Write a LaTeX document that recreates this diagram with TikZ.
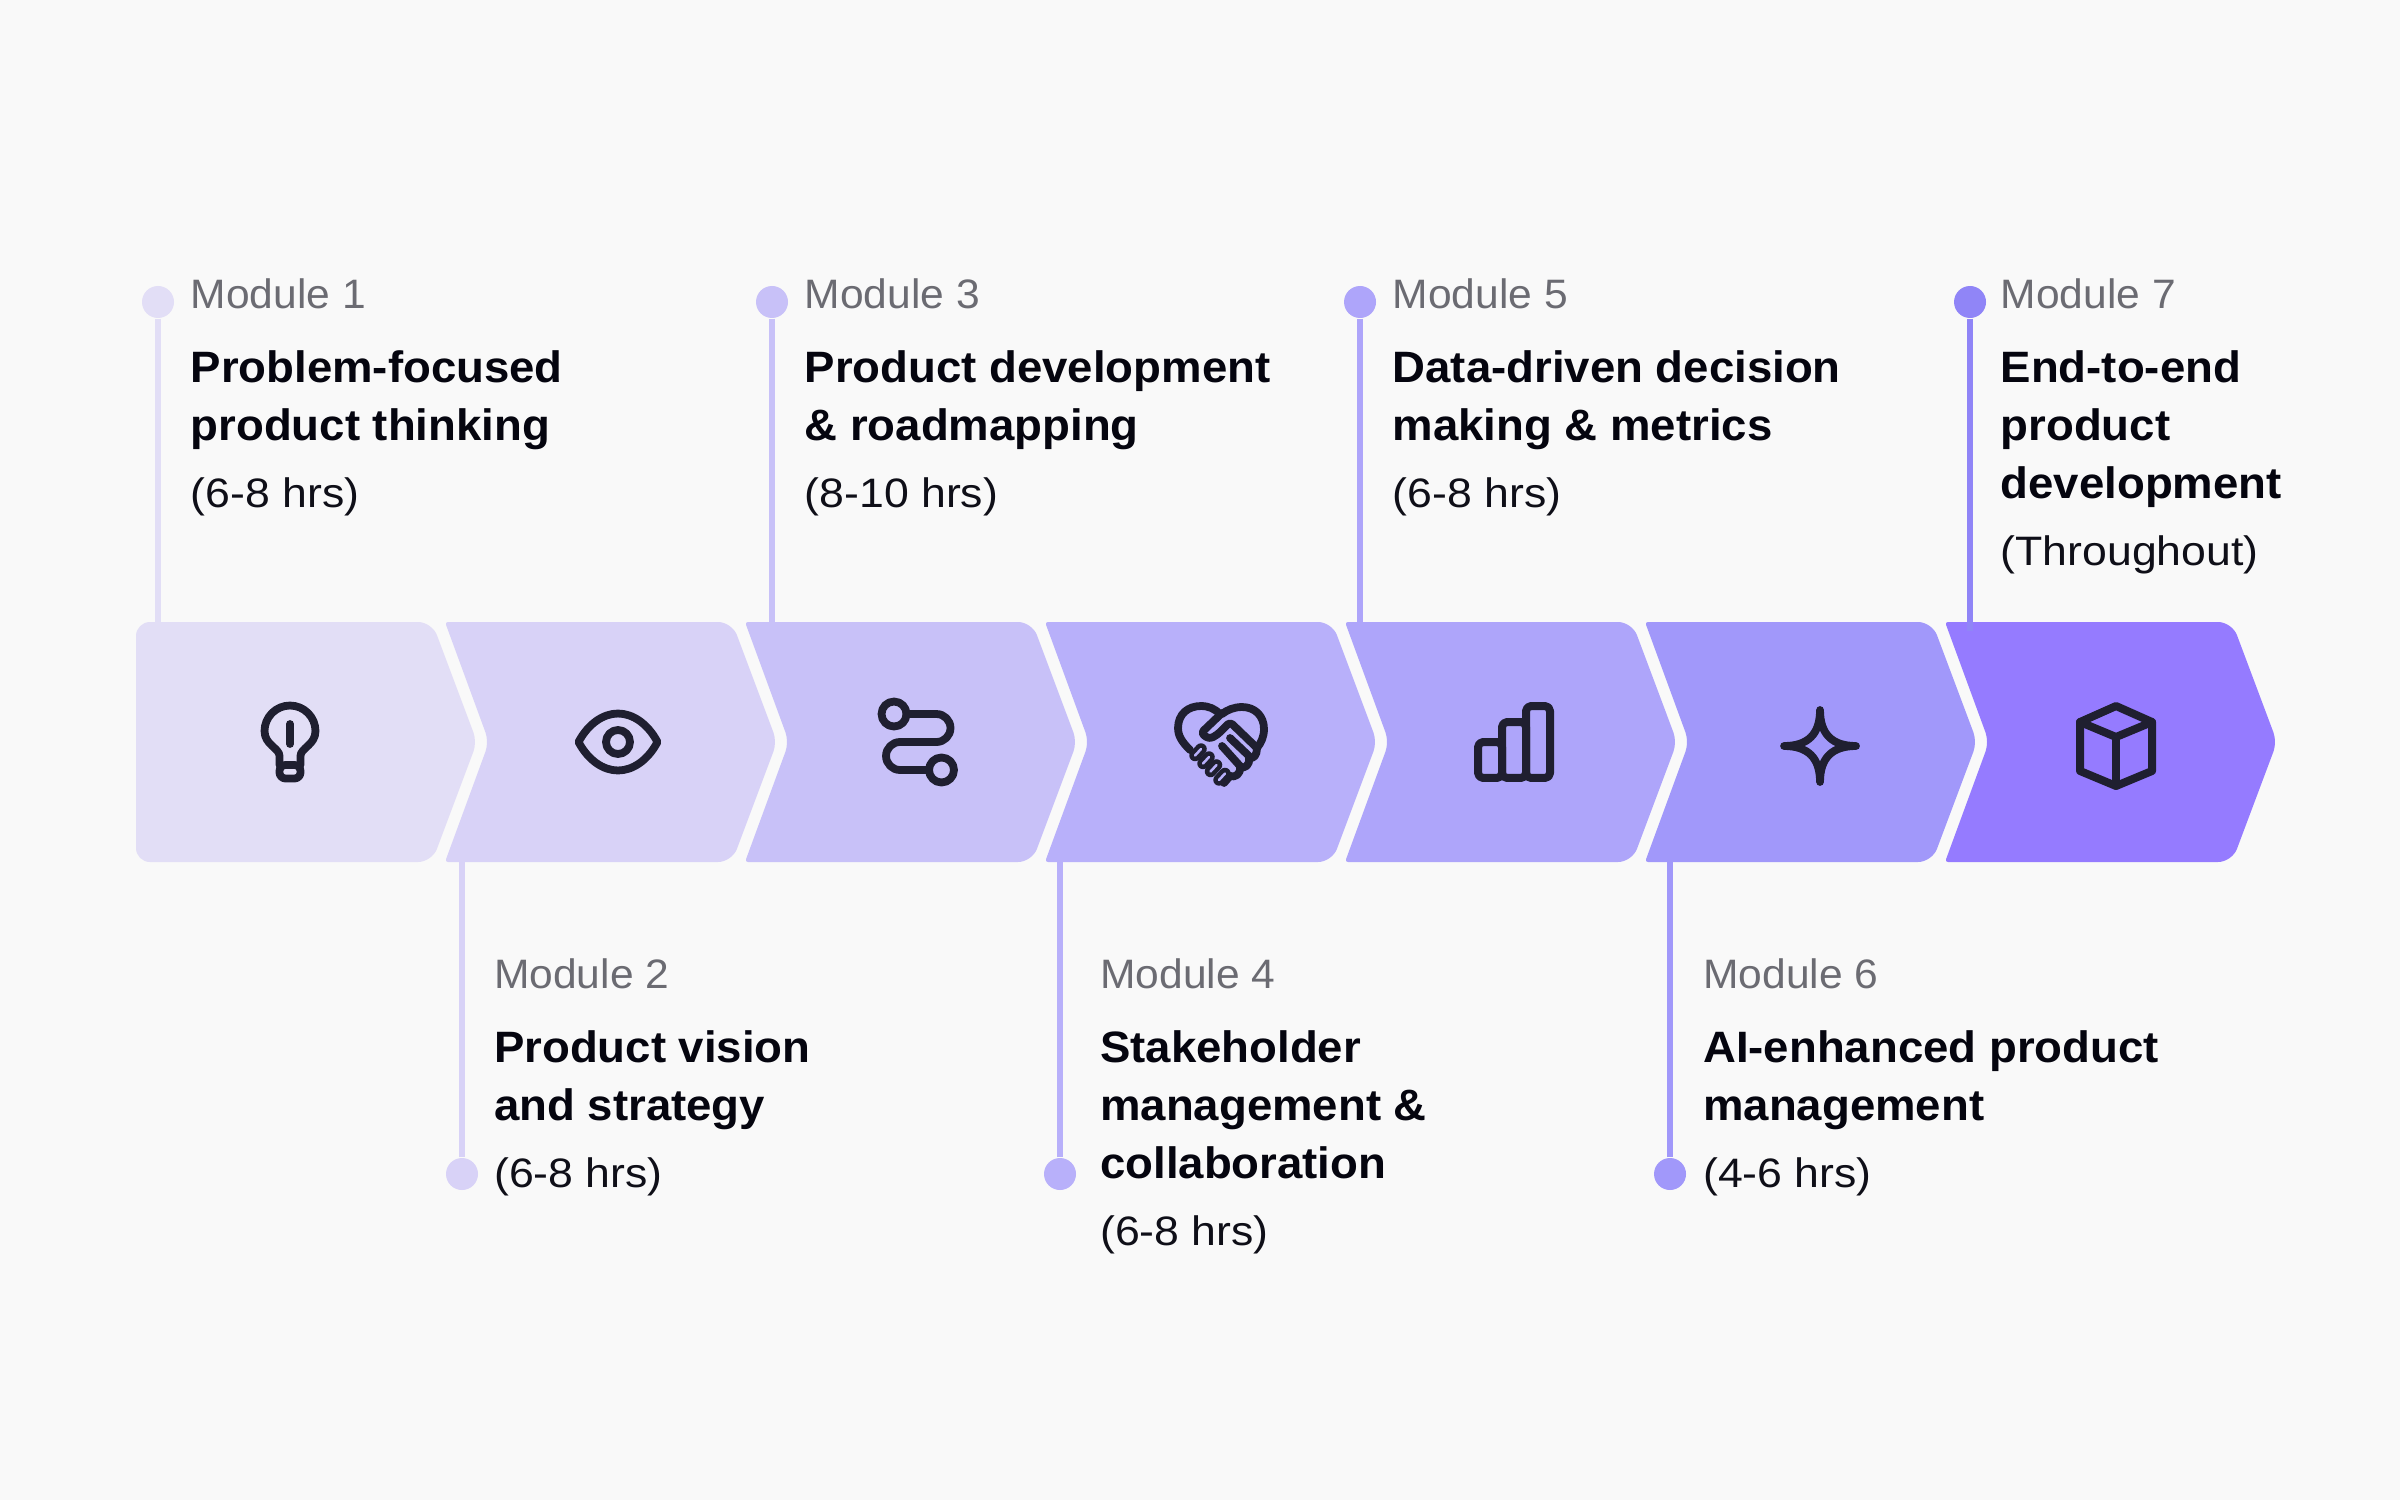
\documentclass[tikz,border=0pt]{standalone}
\usepackage{fontspec}
\setmainfont{Liberation Sans}
\newfontfamily\labelfamily[FakeStretch=1.035]{Liberation Sans}
\newfontfamily\titlefamily[FakeStretch=1.037]{Liberation Sans Bold}
\newfontfamily\hoursfamily[FakeStretch=1.085]{Liberation Sans}
\definecolor{pagebg}{HTML}{F9F9F9}
\definecolor{stepa}{HTML}{E2DEF6}
\definecolor{stepb}{HTML}{D8D2F7}
\definecolor{stepc}{HTML}{C8C1F8}
\definecolor{stepd}{HTML}{B8B0FA}
\definecolor{stepe}{HTML}{AEA5FA}
\definecolor{stepf}{HTML}{A198FA}
\definecolor{stepg}{HTML}{957BFF}
\definecolor{leadg}{HTML}{9085F7}
\definecolor{ink}{HTML}{1F1F30}
\definecolor{greytext}{HTML}{6B6B72}
\definecolor{titletext}{HTML}{05050F}
\definecolor{hourstext}{HTML}{0F0F18}
\newcommand{\modname}[1]{{\labelfamily\fontsize{11.7pt}{16.5pt}\selectfont\color{greytext}#1}}
\newcommand{\modtitle}[1]{{\titlefamily\fontsize{12.5pt}{16.5pt}\selectfont\color{titletext}#1}}
\newcommand{\modhours}[1]{{\hoursfamily\fontsize{11.7pt}{16.5pt}\selectfont\color{hourstext}#1}}

\begin{document}
\begin{tikzpicture}[
  font=\fontsize{11.7pt}{16.5pt}\selectfont,
  stepnode/.style={minimum width=2.6cm, minimum height=2.4cm, inner sep=0pt},
  dotnode/.style={circle, minimum size=0.32cm, inner sep=0pt, fill=#1},
  lead/.style={draw=#1, line width=0.06cm},
  modtext/.style={anchor=base west, align=left, inner sep=0pt},
  iconline/.style={draw=ink, line width=0.078cm, line join=round, line cap=round, fill=none},
  finger/.style={draw=ink, line width=0.045cm, line cap=round, double=stepd, double distance=0.025cm},
  bulb/.pic={
    \draw[iconline] (-10.5,-23) -- (-10.5,-14) .. controls (-10.5,-6) and (-25.5,-3) .. (-25.5,11) .. controls (-25.5,25) and (-14,36.5) .. (0,36.5) .. controls (14,36.5) and (25.5,25) .. (25.5,11) .. controls (25.5,-3) and (10.5,-6) .. (10.5,-14) -- (10.5,-23);
    \draw[iconline, rounded corners=0.06cm] (-10.5,-23) -- (-10.5,-36.5) -- (10.5,-36.5) -- (10.5,-23) -- cycle;
    \draw[iconline] (0,18) -- (0,-2);
  },
  eye/.pic={
    \draw[iconline] (-39.5,0) .. controls (-30,18) and (-15,28.5) .. (0,28.5) .. controls (15,28.5) and (30,18) .. (39.5,0) .. controls (30,-18) and (15,-28.5) .. (0,-28.5) .. controls (-15,-28.5) and (-30,-18) .. (-39.5,0) -- cycle;
    \draw[iconline] (0,0) circle (12);
  },
  route/.pic={
    \draw[iconline] (-24,28) circle (12.5);
    \draw[iconline] (23.5,-28) circle (12.5);
    \draw[iconline] (-11.5,28) -- (18.5,28) arc (90:-90:14) -- (-18,0) arc (90:270:14) -- (11,-28);
  },
  clasp/.pic={
    \draw[iconline] (-31,-8) .. controls (-39,0) and (-43,6) .. (-43,14) .. controls (-43,28) and (-33,36) .. (-20,36) .. controls (-12,36) and (-6,33) .. (-1,28);
    \draw[iconline] (1,28) .. controls (6,32) and (13,35) .. (21,35) .. controls (34,35) and (43,26) .. (43,13) .. controls (43,5) and (40,-1) .. (36,-6);
    \draw[iconline, rounded corners=0.035cm] (1,29) -- (-20,9) -- (-12,3) -- (-4,7) -- (9,20) -- (36,-6);
    \draw[iconline] (9,4) -- (29,-15);
    \draw[iconline] (1,-4) -- (19,-24);
    \draw[iconline] (36,-6) .. controls (36,-13) and (33,-17) .. (28,-16) .. controls (29,-23) and (24,-27) .. (19,-25) .. controls (20,-32) and (14,-36) .. (9,-34) -- (3,-41);
    \draw[finger] (-26,-13.5) -- (-20,-7);
    \draw[finger] (-18,-21.5) -- (-12,-15);
    \draw[finger] (-10.5,-29.5) -- (-4.5,-23);
    \draw[finger] (-2,-38) -- (4,-31.5);
  },
  bars/.pic={
    \draw[iconline, line width=0.08cm, rounded corners=0.05cm] (-36,-36) rectangle (-12,0);
    \draw[iconline, line width=0.08cm, rounded corners=0.05cm] (-12,-36) rectangle (12,20);
    \draw[iconline, line width=0.08cm, rounded corners=0.05cm] (12,-36) rectangle (36,36);
  },
  sparkle/.pic={
    \draw[iconline] (0,32) .. controls (0,8) and (-12,-4) .. (-36,-4) .. controls (-12,-4) and (0,-16) .. (0,-40) .. controls (0,-16) and (12,-4) .. (36,-4) .. controls (12,-4) and (0,8) .. (0,32) -- cycle;
  },
  cube/.pic={
    \draw[iconline, line width=0.08cm] (0,36) -- (36,20) -- (36,-29) -- (0,-44) -- (-36,-29) -- (-36,20) -- cycle;
    \draw[iconline, line width=0.08cm] (-36,20) -- (0,5) -- (36,20);
    \draw[iconline, line width=0.08cm] (0,5) -- (0,-44);
  },
  every pic/.style={x=0.01cm, y=0.01cm}
]
\useasboundingbox (0,0) rectangle (24,15);
\fill[pagebg] (0,0) rectangle (24,15);

% chevrons
\fill[stepa] (2.5,8.78) [rounded corners=0.14cm] -- (4.32,8.78) [rounded corners=0.10cm] -- (4.77,7.58) [rounded corners=0.14cm] -- (4.32,6.38) -- (1.36,6.38) -- (1.36,8.78) -- cycle;
\foreach \n/\col in {0/stepb,1/stepc,2/stepd,3/stepe,4/stepf,5/stepg} {
  \begin{scope}[xshift=\n*3cm]
    \fill[\col] (6,8.78) [rounded corners=0.14cm] -- (7.32,8.78) [rounded corners=0.10cm] -- (7.77,7.58) [rounded corners=0.14cm] -- (7.32,6.38) [rounded corners=0.03cm] -- (4.45,6.38) [rounded corners=0.10cm] -- (4.89,7.58) [rounded corners=0.03cm] -- (4.45,8.78) -- cycle;
  \end{scope}
}

\node[stepnode] (step1) at (2.90,7.58) {};
\node[stepnode] (step2) at (6.18,7.58) {};
\node[stepnode] (step3) at (9.18,7.58) {};
\node[stepnode] (step4) at (12.21,7.58) {};
\node[stepnode] (step5) at (15.14,7.58) {};
\node[stepnode] (step6) at (18.20,7.58) {};
\node[stepnode] (step7) at (21.16,7.58) {};

\pic at (step1) {bulb};
\pic at (step2) {eye};
\pic at (step3) {route};
\pic at (step4) {clasp};
\pic at (step5) {bars};
\pic at (step6) {sparkle};
\pic at (step7) {cube};

% leaders
\node[dotnode=stepa] (dot1) at (1.58,11.98) {};
\node[dotnode=stepb] (dot2) at (4.62,3.26) {};
\node[dotnode=stepc] (dot3) at (7.72,11.98) {};
\node[dotnode=stepd] (dot4) at (10.60,3.26) {};
\node[dotnode=stepe] (dot5) at (13.60,11.98) {};
\node[dotnode=stepf] (dot6) at (16.70,3.26) {};
\node[dotnode=leadg] (dot7) at (19.70,11.98) {};

\draw[lead=stepa] (dot1) -- ([yshift=-0.1cm]dot1 |- step1.north);
\draw[lead=stepb] (dot2) -- ([yshift=0.1cm]dot2 |- step2.south);
\draw[lead=stepc] (dot3) -- ([yshift=-0.1cm]dot3 |- step3.north);
\draw[lead=stepd] (dot4) -- ([yshift=0.1cm]dot4 |- step4.south);
\draw[lead=stepe] (dot5) -- ([yshift=-0.1cm]dot5 |- step5.north);
\draw[lead=stepf] (dot6) -- ([yshift=0.1cm]dot6 |- step6.south);
\draw[lead=leadg] (dot7) -- ([yshift=-0.1cm]dot7 |- step7.north);

% module texts, placed by the last baseline
\node[modtext] (mod1) at (1.90,9.93) {\modname{Module 1}\\[4.55pt]\modtitle{Problem-focused}\\\modtitle{product thinking}\\[2.56pt]\modhours{(6-8 hrs)}};
\node[modtext] (mod2) at (4.935,3.13) {\modname{Module 2}\\[4.55pt]\modtitle{Product vision}\\\modtitle{and strategy}\\[2.56pt]\modhours{(6-8 hrs)}};
\node[modtext] (mod3) at (8.04,9.93) {\modname{Module 3}\\[4.55pt]\modtitle{Product development}\\\modtitle{\& roadmapping}\\[2.56pt]\modhours{(8-10 hrs)}};
\node[modtext] (mod4) at (10.995,2.55) {\modname{Module 4}\\[4.55pt]\modtitle{Stakeholder}\\\modtitle{management \&}\\\modtitle{collaboration}\\[2.56pt]\modhours{(6-8 hrs)}};
\node[modtext] (mod5) at (13.92,9.93) {\modname{Module 5}\\[4.55pt]\modtitle{Data-driven decision}\\\modtitle{making \& metrics}\\[2.56pt]\modhours{(6-8 hrs)}};
\node[modtext] (mod6) at (17.025,3.13) {\modname{Module 6}\\[4.55pt]\modtitle{AI-enhanced product}\\\modtitle{management}\\[2.56pt]\modhours{(4-6 hrs)}};
\node[modtext] (mod7) at (20.00,9.35) {\modname{Module 7}\\[4.55pt]\modtitle{End-to-end}\\\modtitle{product}\\\modtitle{development}\\[2.56pt]\modhours{(Throughout)}};
\end{tikzpicture}
\end{document}
